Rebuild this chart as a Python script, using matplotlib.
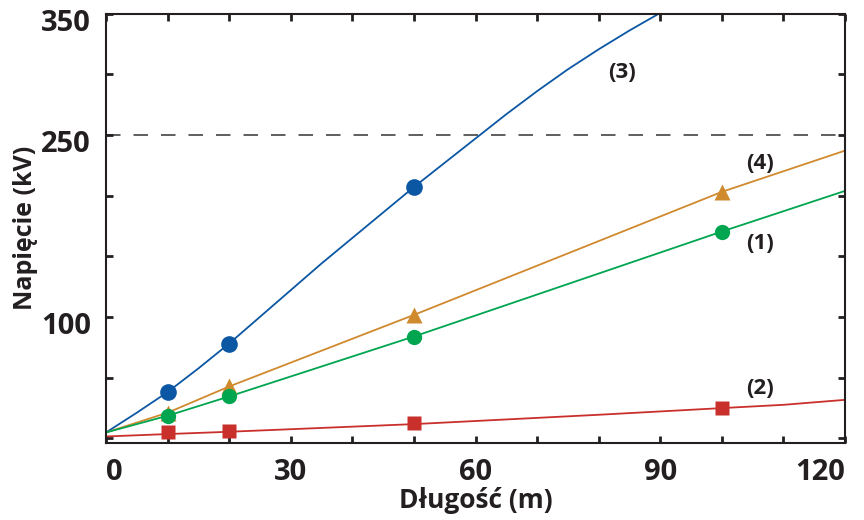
import matplotlib
matplotlib.use("Agg")
import matplotlib.pyplot as plt
from matplotlib.transforms import ScaledTranslation

plt.rcParams['font.family'] = ['Open Sans', 'DejaVu Sans']
plt.rcParams['font.weight'] = 'bold'

# pomiary (punkty)
dlugosc_pkt = [10, 20, 50, 100]
u1_pkt = [18.5, 34.4, 83.8, 170.3]
u2_pkt = [4.7, 6.1, 12.4, 24.8]
u3_pkt = [38, 78, 207]
u4_pkt = [21, 42.6, 101.6, 203]

# krzywe
k3_x = [0, 5, 10, 15, 20, 25, 30, 35, 40, 45, 50, 55, 60, 65, 70, 75, 80, 85, 90]
k3_y = [4.7, 21, 38, 57.5, 78, 100, 122, 144, 165, 186, 207, 227, 247, 267, 286, 304, 320.5, 336, 350.5]
k1_x = [0, 10, 20, 50, 100, 120]
k1_y = [4.7, 18.5, 34.4, 83.8, 170.3, 203.8]
k4_x = [0, 10, 20, 50, 100, 120]
k4_y = [4.7, 21, 42.6, 101.6, 203, 237]
k2_x = [0, 10, 20, 50, 80, 100, 110, 120]
k2_y = [1.4, 3.4, 5.3, 11.6, 19.3, 24.8, 27.5, 31.6]

prog = 250

x_ticks = list(range(0, 121, 10))
x_labels = ['0', '', '', '30', '', '', '60', '', '', '90', '', '', '120']
y_ticks = list(range(0, 351, 50))
y_labels = ['', '', '100', '', '', '250', '', '350']

niebieski = '#0b57a4'
zielony = '#00a550'
pomaranczowy = '#d08a2e'
czerwony = '#c9302c'
ciemny = '#231f20'

fig = plt.figure(figsize=(8.64, 5.2), dpi=100)
ax = fig.add_axes([0.1227, 0.148, 0.978 - 0.1227, 0.974 - 0.148])

ax.axhline(prog, color='#333333', lw=1.1, linestyle=(0, (9.5, 8.5)), zorder=1)

ax.plot(k3_x, k3_y, color=niebieski, lw=1.3, zorder=2)
ax.plot(k4_x, k4_y, color=pomaranczowy, lw=1.3, zorder=2)
ax.plot(k1_x, k1_y, color=zielony, lw=1.3, zorder=2)
ax.plot(k2_x, k2_y, color=czerwony, lw=1.3, zorder=2)

ax.plot(dlugosc_pkt[:3], u3_pkt, 'o', color=niebieski, ms=12, mec='none', zorder=3)
ax.plot(dlugosc_pkt, u4_pkt, '^', color=pomaranczowy, ms=12, mec='none', zorder=3)
ax.plot(dlugosc_pkt, u1_pkt, 'o', color=zielony, ms=11, mec='none', zorder=4)
ax.plot(dlugosc_pkt, u2_pkt, 's', color=czerwony, ms=10, mec='none', zorder=3)

etykiety = [(83.8, 301.7, '(3)'), (106.2, 226.7, '(4)'), (106.2, 160.8, '(1)'), (106.2, 41.3, '(2)')]
for ex, ey, et in etykiety:
    ax.text(ex, ey, et, fontsize=16, fontweight='bold', color=ciemny, ha='center', va='center')

ax.set_xlim(0, 120)
ax.set_ylim(-4, 350)
ax.set_xticks(x_ticks)
ax.set_xticklabels(x_labels)
ax.set_yticks(y_ticks)
ax.set_yticklabels(y_labels)
ax.tick_params(direction='in', top=True, right=True, length=5, width=2,
               color=ciemny, labelsize=21, labelcolor=ciemny, pad=11)

for lab in ax.get_xticklabels():
    lab.set_fontweight('bold')
xl = ax.get_xticklabels()
xl[0].set_ha('left')
xl[-1].set_ha('right')
for lab in ax.get_yticklabels():
    lab.set_fontweight('bold')
    lab.set_transform(lab.get_transform() + ScaledTranslation(0, -0.06, fig.dpi_scale_trans))

for s in ax.spines.values():
    s.set_linewidth(1.5)
    s.set_color(ciemny)

ax.set_xlabel('Długość (m)', fontsize=19, fontweight='bold', color=ciemny, labelpad=0)
ax.set_ylabel('Napięcie (kV)', fontsize=18, fontweight='bold', color=ciemny, labelpad=2)

fig.savefig('out.png', dpi=100)
